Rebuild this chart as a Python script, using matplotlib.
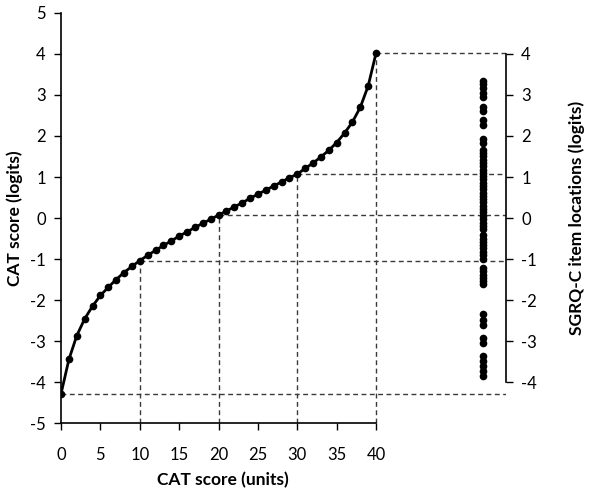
import matplotlib
matplotlib.use("Agg")
import matplotlib.pyplot as plt

plt.rcParams['font.family'] = ['Lato', 'DejaVu Sans']
plt.rcParams['axes.unicode_minus'] = False

# CAT score (units) and corresponding logits
cat_units = list(range(0, 41))
cat_logits = [-4.29, -3.45, -2.87, -2.46, -2.15, -1.89, -1.69, -1.50, -1.33, -1.18,
              -1.04, -0.91, -0.79, -0.67, -0.56, -0.44, -0.34, -0.23, -0.13, -0.03,
              0.07, 0.17, 0.27, 0.37, 0.48, 0.58, 0.68, 0.78, 0.88, 0.98,
              1.07, 1.21, 1.34, 1.49, 1.65, 1.84, 2.07, 2.34, 2.70, 3.22, 4.02]

# SGRQ-C item locations (logits)
sgrq_items = [3.35, 3.26, 3.16, 3.06, 2.96, 2.70, 2.60, 2.38, 2.27, 1.92, 1.82,
              1.66, 1.58, 1.50, 1.42, 1.34, 1.26, 1.18, 1.10, 1.02, 0.94, 0.86,
              0.78, 0.70, 0.62, 0.54, 0.46, 0.38, 0.30, 0.22, 0.14, 0.06, -0.02,
              -0.12, -0.20, -0.28, -0.42, -0.50, -0.58, -0.66, -0.74, -0.82,
              -0.90, -1.00, -1.22, -1.30, -1.38, -1.46, -1.54, -1.62,
              -2.35, -2.48, -2.62, -2.92, -3.06, -3.36, -3.48, -3.60, -3.72, -3.86]

ref_units = [10, 20, 30, 40]
x_ticks = [0, 5, 10, 15, 20, 25, 30, 35, 40]
left_ticks = [-5, -4, -3, -2, -1, 0, 1, 2, 3, 4, 5]
right_ticks = [-4, -3, -2, -1, 0, 1, 2, 3, 4]

XMAX = 56.5
ITEM_X = 53.6

fig = plt.figure(figsize=(6, 4.94), dpi=100)
ax = fig.add_axes([0.1017, 0.1437, 0.7416, 0.83])
ax.set_xlim(0, XMAX)
ax.set_ylim(-5, 5)

dash_kw = dict(color='#3a3a3a', lw=1.0, ls=(0, (3.5, 2.5)), zorder=1)
# bottom horizontal reference
ax.plot([0, XMAX], [cat_logits[0], cat_logits[0]], **dash_kw)
for u in ref_units:
    v = cat_logits[cat_units.index(u)]
    ax.plot([u, u], [-5, v], **dash_kw)
    ax.plot([u, XMAX], [v, v], **dash_kw)

ax.plot(cat_units, cat_logits, color='black', lw=2.0, marker='o', ms=4.5, zorder=3)
ax.plot([ITEM_X] * len(sgrq_items), sgrq_items, ls='none', marker='o', ms=4.5,
        color='black', zorder=3)

for s in ['top', 'right']:
    ax.spines[s].set_visible(False)
ax.spines['bottom'].set_bounds(0, 40)
ax.spines['left'].set_linewidth(1.2)
ax.spines['bottom'].set_linewidth(1.2)
ax.set_xticks(x_ticks)
ax.set_yticks(left_ticks)
ax.tick_params(direction='out', length=5, width=1, labelsize=12)
ax.tick_params(axis='x', pad=12)
ax.tick_params(axis='y', pad=6)

ax.set_xlabel('CAT score (units)', fontsize=12.5, fontweight='bold')
ax.xaxis.set_label_coords(20.5 / XMAX, -0.12)
ax.set_ylabel('CAT score (logits)', fontsize=12.5, fontweight='bold')
ax.yaxis.set_label_coords(-0.085, 0.5)

ax2 = ax.twinx()
ax2.set_ylim(-5, 5)
for s in ['top', 'left', 'bottom']:
    ax2.spines[s].set_visible(False)
ax2.spines['right'].set_bounds(-4, 4)
ax2.spines['right'].set_linewidth(1.2)
ax2.set_yticks(right_ticks)
ax2.tick_params(direction='out', length=5, width=1, labelsize=12, pad=6)
ax2.set_ylabel('SGRQ-C item locations (logits)', fontsize=12.5, fontweight='bold')
ax2.yaxis.set_label_coords(1.14, 0.5)

fig.savefig('out.png', dpi=100)
